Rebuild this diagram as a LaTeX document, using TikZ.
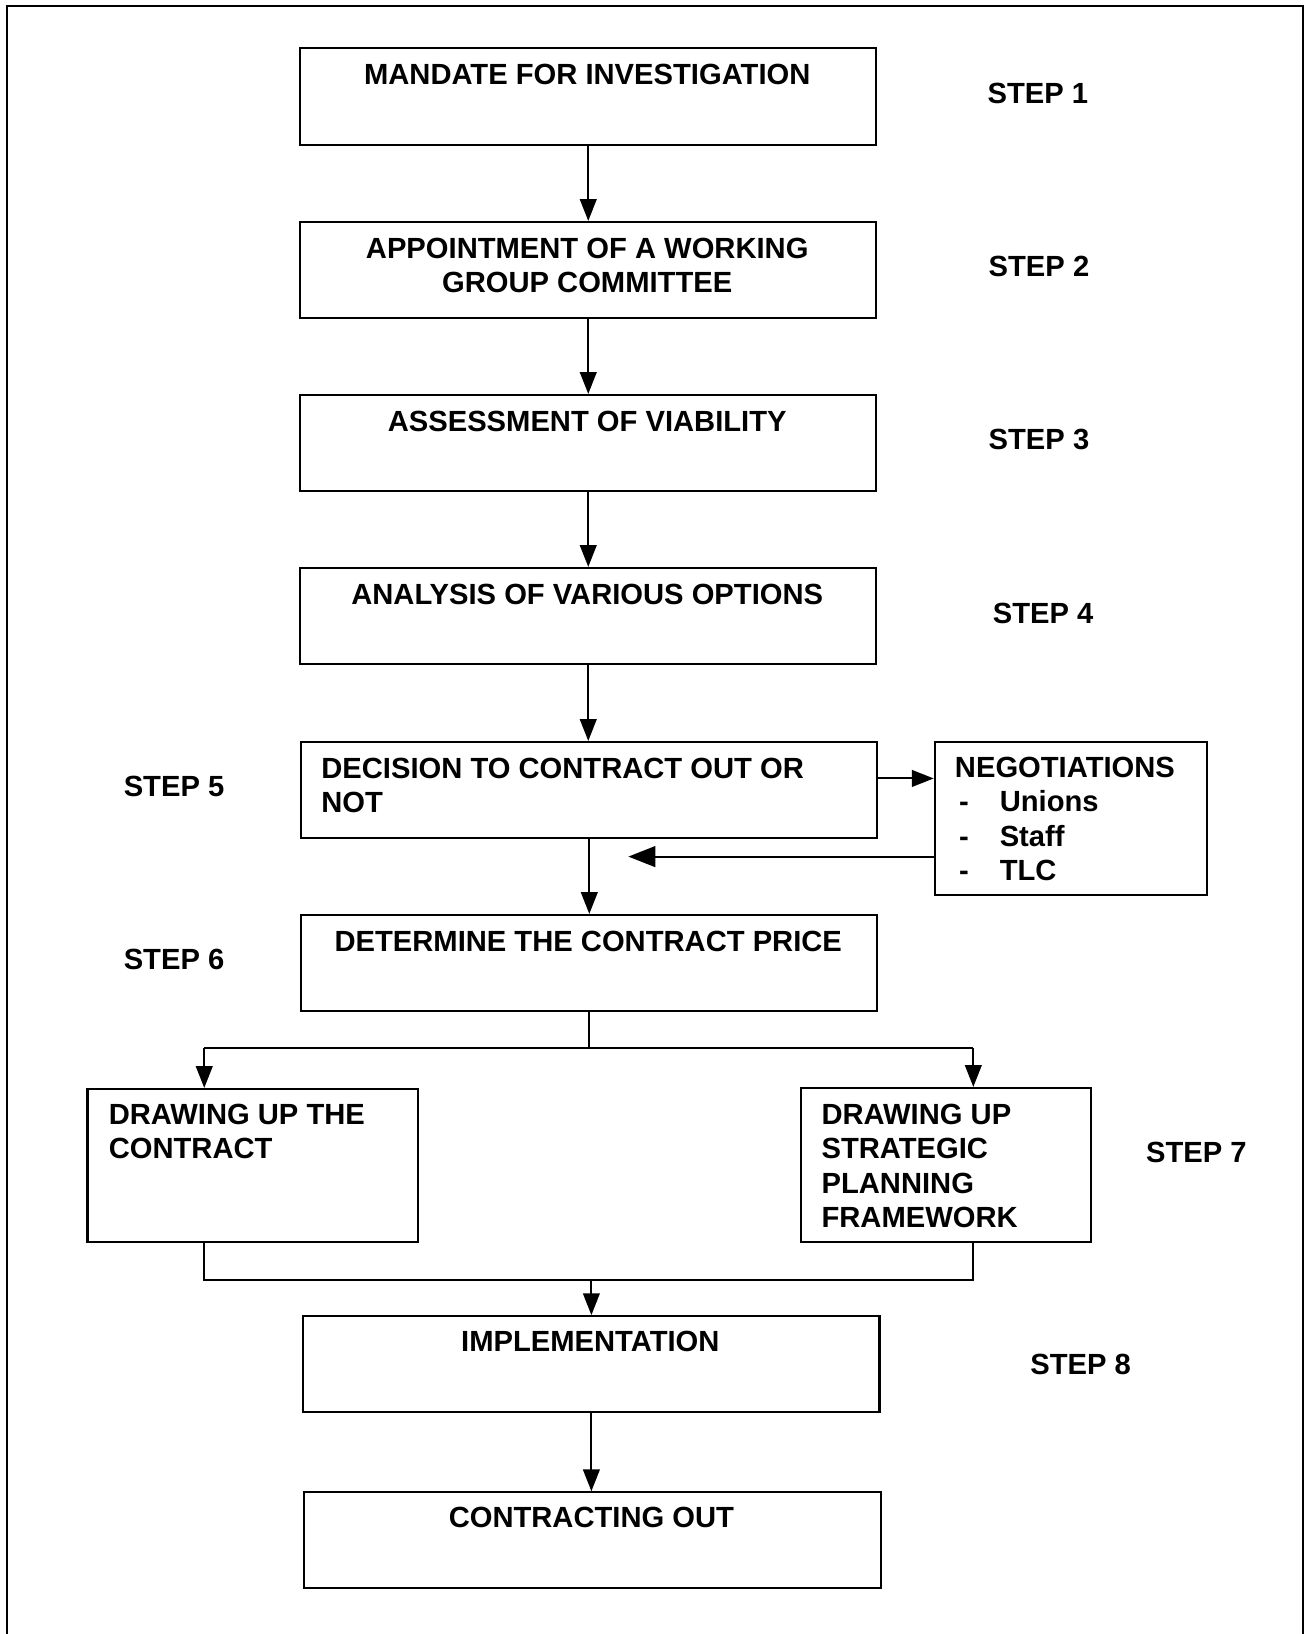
\documentclass[tikz,border=0pt]{standalone}
\usepackage{fontspec}
\setmainfont{Liberation Sans}
\usetikzlibrary{arrows.meta}
\begin{document}
\begin{tikzpicture}[x=0.5pt,y=-0.5pt,
 box/.style={draw, line width=1pt, rectangle, inner sep=0pt, anchor=north west},
 txt/.style={inner sep=0pt, font=\fontsize{14pt}{16.5pt}\selectfont\bfseries},
 ctxt/.style={txt, anchor=north, align=center},
 ltxt/.style={txt, anchor=north west, align=left},
 steplbl/.style={txt, anchor=center},
 arr/.style={line width=1pt, -{Triangle[width=8pt,length=10.5pt]}},
 bigarr/.style={line width=1pt, -{Triangle[width=10pt,length=13pt]}},
 conn/.style={line width=1pt}]
\useasboundingbox (0,0) rectangle (1254,1568);
% outer frame
\draw[line width=1pt] (7,1568) -- (7,6) -- (1250,6) -- (1250,1568);

% boxes
\node[box, minimum width=276.5pt, minimum height=46.5pt] (b1) at (287,45) {};
\node[box, minimum width=276.5pt, minimum height=46pt] (b2) at (287,212) {};
\node[box, minimum width=276.5pt, minimum height=46pt] (b3) at (287,378) {};
\node[box, minimum width=276.5pt, minimum height=46pt] (b4) at (287,544) {};
\node[box, minimum width=276.5pt, minimum height=46pt] (b5) at (288,711) {};
\node[box, minimum width=276.5pt, minimum height=46pt] (b6) at (288,877) {};
\node[box, minimum width=130.5pt, minimum height=73.5pt] (neg) at (896,711) {};
\node[box, minimum width=158.5pt, minimum height=73.5pt] (b7l) at (83,1044) {};
\node[box, minimum width=139pt, minimum height=74pt] (b7r) at (768,1043) {};
\node[box, minimum width=276.5pt, minimum height=46pt] (b8) at (290,1262) {};
\node[box, minimum width=276.5pt, minimum height=46pt] (b9) at (291,1431) {};

% texts
\node[ctxt] (t1) at (563.5,61) {MANDATE FOR INVESTIGATION};
\node[ctxt] (t2) at (563.5,228) {APPOINTMENT OF A WORKING\\GROUP COMMITTEE};
\node[ctxt] (t3) at (563.5,394) {ASSESSMENT OF VIABILITY};
\node[ctxt] (t4) at (563.5,560) {ANALYSIS OF VARIOUS OPTIONS};
\node[ltxt] (t5) at (308,727) {DECISION TO CONTRACT OUT OR\\NOT};
\node[ltxt] (tn) at (916,726) {NEGOTIATIONS\\\hspace*{2pt}\makebox[19.5pt][l]{-}Unions\\\hspace*{2pt}\makebox[19.5pt][l]{-}Staff\\\hspace*{2pt}\makebox[19.5pt][l]{-}TLC};
\node[ctxt] (t6) at (564.5,893) {DETERMINE THE CONTRACT PRICE};
\node[ltxt] (t7l) at (104,1059) {DRAWING UP THE\\CONTRACT};
\node[ltxt] (t7r) at (788,1059) {DRAWING UP\\STRATEGIC\\PLANNING\\FRAMEWORK};
\node[ctxt] (t8) at (566.5,1277) {IMPLEMENTATION};
\node[ctxt] (t9) at (567.5,1446) {CONTRACTING OUT};

% step labels
\node[steplbl] (s1) at (996,90) {STEP 1};
\node[steplbl] (s2) at (997,256) {STEP 2};
\node[steplbl] (s3) at (997,422) {STEP 3};
\node[steplbl] (s4) at (1001,589) {STEP 4};
\node[steplbl] (s5) at (167,755) {STEP 5};
\node[steplbl] (s6) at (167,921) {STEP 6};
\node[steplbl] (s7) at (1148,1106) {STEP 7};
\node[steplbl] (s8) at (1037,1309) {STEP 8};

% connectors
\draw[arr] (b1.south) -- (b2.north);
\draw[arr] (b2.south) -- (b3.north);
\draw[arr] (b3.south) -- (b4.north);
\draw[arr] (b4.south) -- (b4.south |- b5.north);
\draw[arr] (b5.south) -- (b6.north);
\coordinate (y5) at (0,747);
\draw[arr] (b5.east |- y5) -- (neg.west |- y5);
\coordinate (ret) at (603,822);
\draw[bigarr] (neg.west |- ret) -- (ret);

\coordinate (bl) at (196,1006);
\coordinate (brr) at (934,1006);
\draw[conn] (b6.south) -- (b6.south |- bl);
\draw[conn] (bl) -- (brr);
\draw[arr] (bl) -- (bl |- b7l.north);
\draw[arr] (brr) -- (brr |- b7r.north);

\coordinate (ml) at (196,1228);
\coordinate (mr) at (934,1228);
\draw[conn] (ml |- b7l.south) -- (ml) -- (mr) -- (mr |- b7r.south);
\draw[arr] (b8.north |- ml) -- (b8.north);
\draw[arr] (b8.south) -- (b8.south |- b9.north);
\end{tikzpicture}
\end{document}
